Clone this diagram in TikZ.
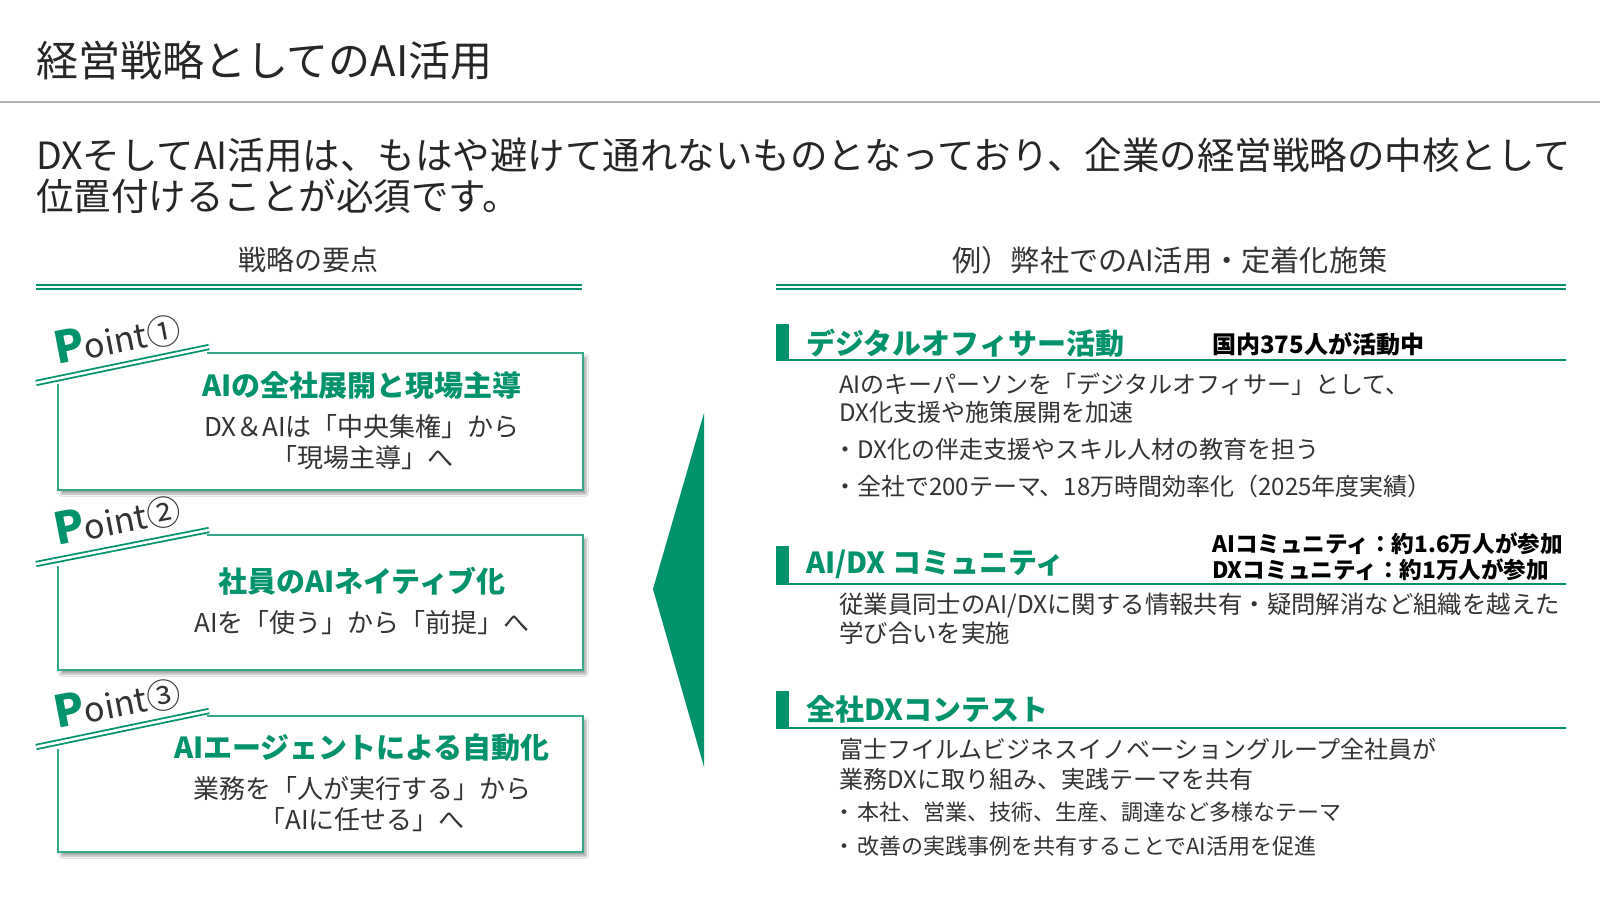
\documentclass[tikz,border=0pt]{standalone}
\usepackage{fontspec}
\setmainfont{Noto Sans CJK JP}
\usetikzlibrary{shadows.blur}
\definecolor{fjgreen}{HTML}{00936B}
\definecolor{bodygray}{HTML}{333333}
\newcommand{\fsz}[2]{\fontsize{#1}{#2}\selectfont}
\newcommand{\itemdot}{\makebox[18pt][l]{\hspace{-6pt}・}}

\begin{document}
\begin{tikzpicture}[x=1pt, y=-1pt,
    pagetitle/.style={anchor=west, inner sep=0pt, font=\fsz{42}{48}, text=black!85},
    lead/.style={anchor=west, inner sep=0pt, align=left, font=\fsz{37.5}{41}, text=black!85},
    colhead/.style={inner sep=0pt, font=\fsz{28}{34}, text=bodygray},
    dline/.style={draw=fjgreen, line width=1.8pt, double=white, double distance=2.6pt},
    pointbox/.style={draw=fjgreen!80, line width=1.6pt},
    boxfill/.style={fill=white, blur shadow={shadow xshift=3pt, shadow yshift=-4pt, shadow blur steps=6, shadow opacity=35}},
    pointlbl/.style={anchor=base west, rotate=11, inner sep=0pt, text=bodygray},
    ptitle/.style={inner sep=0pt, font=\bfseries\fsz{29}{34}, text=fjgreen},
    pbody/.style={inner sep=0pt, align=center, font=\fsz{26}{31}, text=bodygray},
    secline/.style={draw=fjgreen, line width=1.5pt},
    sectitle/.style={anchor=west, inner sep=0pt, font=\bfseries\fsz{29}{34}, text=fjgreen},
    secnote/.style={anchor=west, inner sep=0pt, align=left, font=\bfseries\fsz{22.6}{26}, text=black},
    secbody/.style={anchor=west, inner sep=0pt, align=left, font=\fsz{24}{28}, text=bodygray}
]
\useasboundingbox (0,0) rectangle (1600,900);
\fill[white] (0,0) rectangle (1600,900);

% Heading
\node[pagetitle] (title) at (36,61) {経営戦略としてのAI活用};
\draw[gray!60, line width=2.5pt] (0,102) -- (1600,102);
\node[lead] (lead) at (36,175.5) {DXそしてAI活用は、もはや避けて通れないものとなっており、企業の経営戦略の中核として\\位置付けることが必須です。};

% Column heads
\node[colhead] (lefthead) at (308,260) {戦略の要点};
\draw[dline] (36,287) -- (582,287);
\node[colhead, font=\fsz{29.2}{34}] (righthead) at (1170,260) {例）弊社でのAI活用・定着化施策};
\draw[dline] (776,287) -- (1566,287);

% Point 1
\fill[boxfill] (58,384) -- (58,490) -- (583,490) -- (583,353) -- (207,353) -- cycle;
\draw[pointbox] (58,384) |- (583,490) |- (207,353);
\draw[dline] (36,383) -- (209,347);
\node[pointlbl] (pt1) at (57,365) {{\color{fjgreen}\bfseries\fsz{44}{44}P}{\fsz{34}{34}oint①}};
\node[ptitle] (pt1title) at (362,386) {AIの全社展開と現場主導};
\node[pbody] (pt1body) at (362,442) {DX＆AIは「中央集権」から\\「現場主導」へ};

% Point 2
\fill[boxfill] (58,566) -- (58,670) -- (583,670) -- (583,535) -- (207,535) -- cycle;
\draw[pointbox] (58,566) |- (583,670) |- (207,535);
\draw[dline] (36,564) -- (209,530);
\node[pointlbl] (pt2) at (57,546) {{\color{fjgreen}\bfseries\fsz{44}{44}P}{\fsz{34}{34}oint②}};
\node[ptitle] (pt2title) at (362,581) {社員のAIネイティブ化};
\node[pbody] (pt2body) at (362,623) {AIを「使う」から「前提」へ};

% Point 3
\fill[boxfill] (58,749) -- (58,852) -- (583,852) -- (583,716) -- (207,716) -- cycle;
\draw[pointbox] (58,749) |- (583,852) |- (207,716);
\draw[dline] (36,747) -- (209,711);
\node[pointlbl] (pt3) at (57,729) {{\color{fjgreen}\bfseries\fsz{44}{44}P}{\fsz{34}{34}oint③}};
\node[ptitle] (pt3title) at (362,748) {AIエージェントによる自動化};
\node[pbody] (pt3body) at (362,804.5) {業務を「人が実行する」から\\「AIに任せる」へ};

% Arrow
\fill[fjgreen] (704,413) -- (653,589) -- (704,767) -- cycle;

% Digital officer
\fill[fjgreen] (776,324) rectangle (789,360);
\draw[secline] (776,360) -- (1566,360);
\node[sectitle] (sec1) at (806,343) {デジタルオフィサー活動};
\node[secnote, font=\bfseries\fsz{24}{26}] (sec1note) at (1212,344) {国内375人が活動中};
\node[secbody] (sec1body) at (839,398) {AIのキーパーソンを「デジタルオフィサー」として、\\DX化支援や施策展開を加速};
\node[secbody] (sec1a) at (839,449) {\itemdot DX化の伴走支援やスキル人材の教育を担う};
\node[secbody] (sec1b) at (839,486) {\itemdot 全社で200テーマ、18万時間効率化（2025年度実績）};

% Community
\fill[fjgreen] (776,546) rectangle (789,584);
\draw[secline] (776,584) -- (1566,584);
\node[sectitle] (sec2) at (806,564) {AI/DX コミュニティ};
\node[secnote] (sec2note) at (1212,557) {AIコミュニティ：約1.6万人が参加\\DXコミュニティ：約1万人が参加};
\node[secbody, font=\fsz{24.4}{29}] (sec2body) at (839,618.5) {従業員同士のAI/DXに関する情報共有・疑問解消など組織を越えた\\学び合いを実施};

% Contest
\fill[fjgreen] (776,691) rectangle (789,728);
\draw[secline] (776,728) -- (1566,728);
\node[sectitle] (sec3) at (806,709) {全社DXコンテスト};
\node[secbody, font=\fsz{24}{30}] (sec3body) at (839,764) {富士フイルムビジネスイノベーショングループ全社員が\\業務DXに取り組み、実践テーマを共有};
\node[secbody, font=\fsz{22}{26}] (sec3a) at (839,812) {\itemdot 本社、営業、技術、生産、調達など多様なテーマ};
\node[secbody, font=\fsz{22}{26}] (sec3b) at (839,846) {\itemdot 改善の実践事例を共有することでAI活用を促進};

\end{tikzpicture}
\end{document}
